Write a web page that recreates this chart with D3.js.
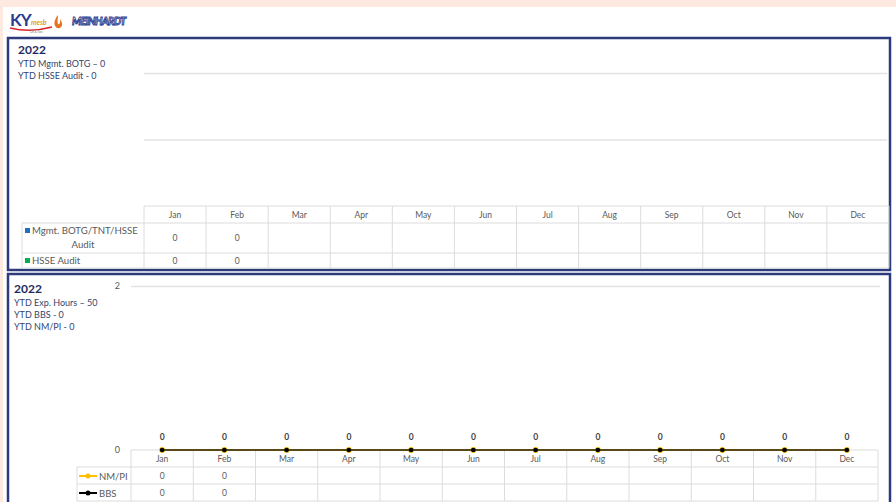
<!DOCTYPE html>
<html>
<head>
<meta charset="utf-8">
<script src="https://cdn.jsdelivr.net/npm/d3@7"></script>
<style>
  body { margin: 0; background: #fde9df; }
  svg { display: block; font-family: Lato, 'Open Sans', sans-serif; }
</style>
</head>
<body>
<script>
// ---- data ----
const months = ['Jan', 'Feb', 'Mar', 'Apr', 'May', 'Jun', 'Jul', 'Aug', 'Sep', 'Oct', 'Nov', 'Dec'];
const year = '2022';

// top panel (audits) - table values, blank after Feb
const mgmtAudit = [0, 0, null, null, null, null, null, null, null, null, null, null];
const hsseAudit = [0, 0, null, null, null, null, null, null, null, null, null, null];
const topSummary = ['YTD Mgmt. BOTG \u2013 0', 'YTD HSSE Audit - 0'];
const topTicks = [0, 1, 2];

// bottom panel (observations) - plotted points and table values
const nmpi = [0, 0, 0, 0, 0, 0, 0, 0, 0, 0, 0, 0];
const bbs = [0, 0, 0, 0, 0, 0, 0, 0, 0, 0, 0, 0];
const nmpiTable = [0, 0, null, null, null, null, null, null, null, null, null, null];
const bbsTable = [0, 0, null, null, null, null, null, null, null, null, null, null];
const bottomSummary = ['YTD Exp. Hours \u2013 50', 'YTD BBS - 0', 'YTD NM/PI - 0'];
const bottomTicks = [0, 2];

// ---- styles ----
const navy = '#2d3a7c';
const titleColor = '#1f2b5e';
const infoColor = '#34456f';
const textColor = '#595959';
const gridColor = '#e3e3e3';
const tableColor = '#dcdcdc';

const width = 896, height = 502;

const svg = d3.select('body')
    .append('svg')
    .attr('width', width)
    .attr('height', height);

// page background
svg.append('rect')
    .attr('x', 3).attr('y', 7)
    .attr('width', width - 3).attr('height', height - 7)
    .attr('fill', '#fff');

// ---- logos ----
const logo = svg.append('g');
logo.append('path')
    .attr('d', 'M10,28 Q30,33 52,27')
    .attr('fill', 'none').attr('stroke', '#d9262b').attr('stroke-width', 1.5);
logo.append('text')
    .attr('x', 10).attr('y', 26)
    .style('font-size', '17px').style('font-weight', 'bold')
    .style('letter-spacing', '-1px')
    .attr('fill', '#2b3a8f')
    .text('KY');
logo.append('text')
    .attr('x', 31).attr('y', 25)
    .style('font-size', '7px').style('font-style', 'italic').style('font-weight', 'bold')
    .attr('fill', '#e0a21b')
    .text('mesb');
logo.append('path')
    .attr('d', 'M58,15 C54,20 53,25 57,28 C62,29 64,24 60,19 C61,23 59,25 58,24 C57,22 58,18 58,15 Z')
    .attr('fill', '#e8731f');
logo.append('text')
    .attr('x', 30).attr('y', 33)
    .style('font-size', '3px')
    .attr('fill', '#777')
    .text('Oil & Gas');
logo.append('text')
    .attr('x', 72).attr('y', 25)
    .style('font-size', '10.5px').style('font-weight', 'bold').style('font-style', 'italic')
    .style('letter-spacing', '-0.6px')
    .attr('fill', '#fff').attr('stroke', '#2a3c90').attr('stroke-width', 0.9)
    .text('MEINHARDT');

// ---- helpers ----
function summary(g, x, y, lines) {
    g.append('text')
        .attr('x', x).attr('y', y)
        .style('font-size', '12px').style('font-weight', 'bold')
        .attr('fill', titleColor)
        .text(year);
    g.selectAll('.info')
        .data(lines)
        .enter()
        .append('text')
        .attr('x', x)
        .attr('y', (d, i) => y + 13 + i * 12)
        .style('font-size', '9px')
        .attr('fill', infoColor)
        .text(d => d);
}

function tableGrid(g, x, labelLeft, headerTop, rowBounds) {
    const left = x.range()[0], right = x.range()[1];
    const bottom = rowBounds[rowBounds.length - 1];
    // header top line
    g.append('line')
        .attr('x1', left).attr('x2', right)
        .attr('y1', headerTop).attr('y2', headerTop)
        .attr('stroke', tableColor);
    // row lines
    g.selectAll('.hrow')
        .data(rowBounds)
        .enter()
        .append('line')
        .attr('x1', labelLeft).attr('x2', right)
        .attr('y1', d => d).attr('y2', d => d)
        .attr('stroke', tableColor);
    // column lines
    const cols = months.map(m => x(m)).concat([right]);
    g.selectAll('.vcol')
        .data(cols)
        .enter()
        .append('line')
        .attr('x1', d => d).attr('x2', d => d)
        .attr('y1', headerTop).attr('y2', bottom)
        .attr('stroke', tableColor);
    g.append('line')
        .attr('x1', labelLeft).attr('x2', labelLeft)
        .attr('y1', rowBounds[0]).attr('y2', bottom)
        .attr('stroke', tableColor);
    // month labels
    g.selectAll('.month')
        .data(months)
        .enter()
        .append('text')
        .attr('x', d => x(d) + x.bandwidth() / 2)
        .attr('y', (headerTop + rowBounds[0]) / 2 + 3)
        .attr('text-anchor', 'middle')
        .style('font-size', '8.5px')
        .attr('fill', textColor)
        .text(d => d);
}

function tableValues(g, x, values, yMid) {
    g.selectAll(null)
        .data(values)
        .enter()
        .filter(d => d !== null)
        .append('text')
        .attr('x', (d, i) => x(months[i]) + x.bandwidth() / 2)
        .attr('y', yMid + 3)
        .attr('text-anchor', 'middle')
        .style('font-size', '8.5px')
        .attr('fill', textColor)
        .text(d => d);
}

// ---- top panel ----
const topPanel = svg.append('g');
topPanel.append('rect')
    .attr('x', 8).attr('y', 38)
    .attr('width', 882).attr('height', 232)
    .attr('fill', '#fff')
    .attr('stroke', navy).attr('stroke-width', 2.5);

summary(topPanel, 18, 54, topSummary);

const xTop = d3.scaleBand().domain(months).range([144, 889]);
const yTop = d3.scaleLinear().domain([0, 2]).range([206, 73]);

// gridlines
topPanel.append('g')
    .attr('transform', 'translate(144,0)')
    .call(d3.axisLeft(yTop).tickValues(topTicks.slice(1)).tickSize(-(887 - 144)).tickFormat(''))
    .call(g => g.select('.domain').remove())
    .call(g => g.selectAll('line').attr('stroke', gridColor).attr('stroke-width', 1.5));

tableGrid(topPanel, xTop, 22, 206, [223, 253, 268]);
tableValues(topPanel, xTop, mgmtAudit, 238);
tableValues(topPanel, xTop, hsseAudit, 261);

// row labels
topPanel.append('rect').attr('x', 25).attr('y', 228).attr('width', 5).attr('height', 5).attr('fill', '#1f6fc4');
topPanel.append('text')
    .attr('x', 32).attr('y', 234)
    .style('font-size', '9.6px').attr('fill', textColor)
    .text('Mgmt. BOTG/TNT/HSSE');
topPanel.append('text')
    .attr('x', 83).attr('y', 248)
    .attr('text-anchor', 'middle')
    .style('font-size', '9.6px').attr('fill', textColor)
    .text('Audit');
topPanel.append('rect').attr('x', 25).attr('y', 258).attr('width', 5).attr('height', 5).attr('fill', '#00b050');
topPanel.append('text')
    .attr('x', 32).attr('y', 264)
    .style('font-size', '9.6px').attr('fill', textColor)
    .text('HSSE Audit');

// ---- bottom panel ----
const bottomPanel = svg.append('g');
bottomPanel.append('rect')
    .attr('x', 8).attr('y', 274)
    .attr('width', 882).attr('height', 240)
    .attr('fill', '#fff')
    .attr('stroke', navy).attr('stroke-width', 2.5);

summary(bottomPanel, 14, 293, bottomSummary);

const xBot = d3.scaleBand().domain(months).range([131, 878]);
const yBot = d3.scaleLinear().domain([0, 2]).range([450, 286]);

// y axis + gridline
bottomPanel.append('g')
    .attr('transform', 'translate(131,0)')
    .call(d3.axisLeft(yBot).tickValues(bottomTicks).tickFormat(d3.format('d')).tickSize(0).tickPadding(11))
    .call(g => g.select('.domain').remove())
    .call(g => g.selectAll('text').style('font-size', '9px').style('font-family', 'Lato, sans-serif').attr('fill', textColor));

bottomPanel.append('g')
    .attr('transform', 'translate(131,0)')
    .call(d3.axisLeft(yBot).tickValues(bottomTicks.slice(1)).tickSize(-(880 - 131)).tickFormat(''))
    .call(g => g.select('.domain').remove())
    .call(g => g.selectAll('line').attr('stroke', gridColor).attr('stroke-width', 1.5));

tableGrid(bottomPanel, xBot, 77, 450, [467, 484, 501]);
tableValues(bottomPanel, xBot, nmpiTable, 476);
tableValues(bottomPanel, xBot, bbsTable, 493);

const cx = (d, i) => xBot(months[i]) + xBot.bandwidth() / 2;
const line = d3.line().x(cx).y(d => yBot(d));

// NM/PI (under)
bottomPanel.append('path')
    .datum(nmpi)
    .attr('d', line)
    .attr('fill', 'none').attr('stroke', '#ffc000').attr('stroke-width', 2);
bottomPanel.selectAll('.pt-nmpi')
    .data(nmpi)
    .enter()
    .append('circle')
    .attr('cx', cx).attr('cy', d => yBot(d))
    .attr('r', 3).attr('fill', '#ffc000');

// BBS (over)
bottomPanel.append('path')
    .datum(bbs)
    .attr('d', line)
    .attr('fill', 'none').attr('stroke', '#222').attr('stroke-width', 1.6);
bottomPanel.selectAll('.pt-bbs')
    .data(bbs)
    .enter()
    .append('circle')
    .attr('cx', cx).attr('cy', d => yBot(d))
    .attr('r', 2.3).attr('fill', '#000');

// data labels
bottomPanel.selectAll('.lbl')
    .data(bbs)
    .enter()
    .append('text')
    .attr('x', cx)
    .attr('y', d => yBot(d) - 10)
    .attr('text-anchor', 'middle')
    .style('font-size', '8.5px').style('font-weight', 'bold')
    .attr('fill', '#404040')
    .text(d => d);

// legend keys in table
function legendKey(y, color, r, label) {
    bottomPanel.append('line')
        .attr('x1', 79).attr('x2', 97).attr('y1', y).attr('y2', y)
        .attr('stroke', color).attr('stroke-width', 2);
    bottomPanel.append('circle').attr('cx', 88).attr('cy', y).attr('r', r).attr('fill', color);
    bottomPanel.append('text')
        .attr('x', 99).attr('y', y + 3.5)
        .style('font-size', '9.5px').attr('fill', textColor)
        .text(label);
}
legendKey(476, '#ffc000', 2.5, 'NM/PI');
legendKey(493, '#000', 2.5, 'BBS');
</script>
</body>
</html>
